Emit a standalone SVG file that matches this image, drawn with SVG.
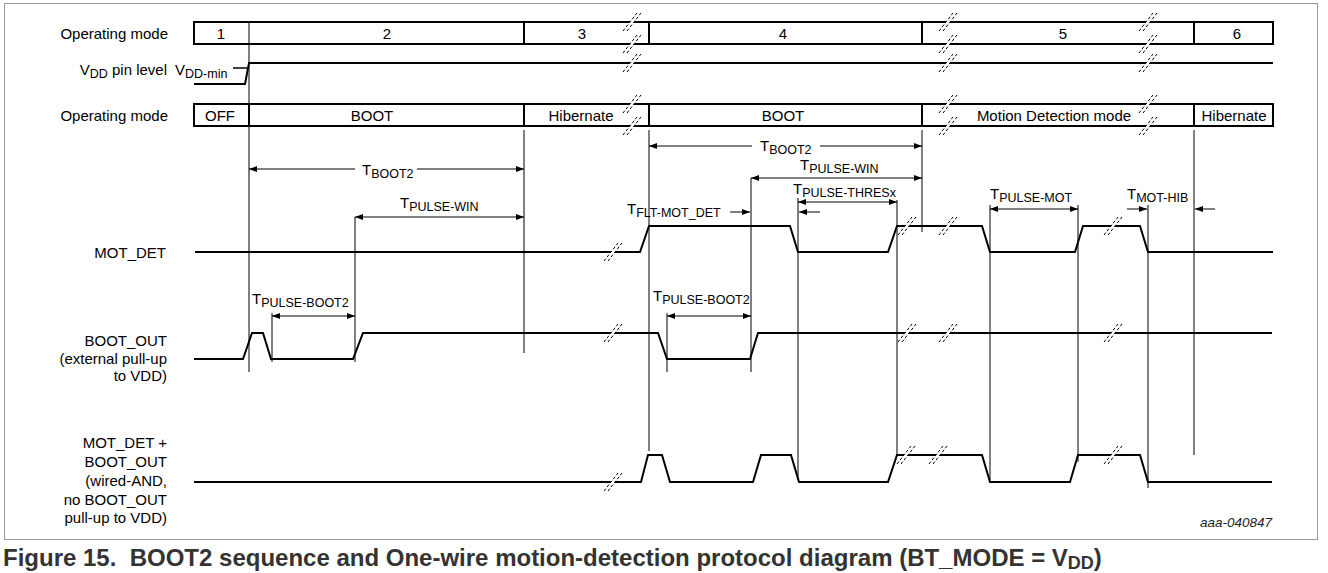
<svg xmlns="http://www.w3.org/2000/svg" width="1328" height="573" viewBox="0 0 1328 573">
<style>
text{font-family:"Liberation Sans",Arial,sans-serif;font-size:15px;fill:#000}
.lbl{text-anchor:end}
.mid{text-anchor:middle}
.sub{font-size:12.5px}
.bar{fill:#fff;stroke:#000;stroke-width:2}
.dv{stroke:#000;stroke-width:2}
.sig{fill:none;stroke:#000;stroke-width:2}
.ref{stroke:#000;stroke-width:1}
.dim{stroke:#000;stroke-width:1;fill:none}
.da{marker-start:url(#ah);marker-end:url(#ah)}
.ea{marker-end:url(#ah)}
.cap{font-size:24px;font-weight:bold;fill:#333}
.code{font-size:13.5px;font-style:italic;text-anchor:end;fill:#222}
</style>
<defs>
<marker id="ah" markerUnits="userSpaceOnUse" markerWidth="9" markerHeight="6" refX="8" refY="3" orient="auto-start-reverse"><path d="M0,0 L8,3 L0,6 z" fill="#000"/></marker>
<g id="brk"><polygon points="-9,9 -5,9 9,-9 5,-9" fill="#fff"/><path d="M-9,9 L5,-9 M-5,9 L9,-9" stroke="#000" stroke-width="1" stroke-dasharray="3 2" fill="none"/></g>
</defs>
<rect x="4.5" y="3.5" width="1313" height="536" fill="none" stroke="#999" stroke-width="1"/>

<g id="labels">
<text class="lbl" x="168" y="39">Operating mode</text>
<text class="lbl" x="167" y="75">V<tspan class="sub" dy="3">DD</tspan><tspan dy="-3"> pin level</tspan></text>
<text x="175" y="75">V<tspan class="sub" dy="3">DD-min</tspan></text>
<text class="lbl" x="168" y="121">Operating mode</text>
<text class="lbl" x="166" y="258">MOT_DET</text>
<text class="lbl" x="167" y="346">BOOT_OUT</text>
<text class="lbl" x="167" y="363.5">(external pull-up</text>
<text class="lbl" x="167" y="381">to VDD)</text>
<text class="lbl" x="167" y="448">MOT_DET +</text>
<text class="lbl" x="167" y="467">BOOT_OUT</text>
<text class="lbl" x="167" y="486">(wired-AND,</text>
<text class="lbl" x="167" y="505">no BOOT_OUT</text>
<text class="lbl" x="167" y="523">pull-up to VDD)</text>
</g>

<g id="mode-bar-1">
<rect class="bar" x="194" y="22" width="1079" height="22"/>
<path class="dv" d="M524,22V44M649,22V44M922,22V44M1194,22V44"/>
<text class="mid" x="221" y="38.5">1</text>
<text class="mid" x="387" y="38.5">2</text>
<text class="mid" x="582" y="38.5">3</text>
<text class="mid" x="783" y="38.5">4</text>
<text class="mid" x="1063" y="38.5">5</text>
<text class="mid" x="1237" y="38.5">6</text>
</g>

<g id="vdd-level">
<path class="sig" d="M194,84H245L249,63H1273"/>
<line x1="233" y1="68" x2="247" y2="68" stroke="#000" stroke-width="1.5"/>
</g>

<g id="mode-bar-2">
<rect class="bar" x="194" y="104" width="1079" height="22"/>
<path class="dv" d="M249,104V126M524,104V126M649,104V126M922,104V126M1194,104V126"/>
<text class="mid" x="220" y="120.5">OFF</text>
<text class="mid" x="372" y="120.5">BOOT</text>
<text class="mid" x="581" y="120.5">Hibernate</text>
<text class="mid" x="783" y="120.5">BOOT</text>
<text class="mid" x="1054" y="120.5">Motion Detection mode</text>
<text class="mid" x="1234" y="120.5">Hibernate</text>
</g>

<g id="mot-det">
<path class="sig" d="M195,252H640L649,226H790L798,252H888L897,226H982L990,252H1075L1083,226H1140L1148,252H1273"/>
</g>

<g id="boot-out">
<path class="sig" d="M194,359H243L252,333H263L271,359H353L363,333H658L667,359H750L758,333H1272"/>
</g>

<g id="wired-and">
<path class="sig" d="M194,482H641L648,455H662L670,482H753L761,455H791L799,482H888L897,455H982L990,482H1070L1078,455H1140L1148,482H1272"/>
</g>

<g id="breaks">
<use href="#brk" x="632" y="22"/><use href="#brk" x="632" y="44"/><use href="#brk" x="632" y="63"/>
<use href="#brk" x="632" y="104"/><use href="#brk" x="632" y="126"/>
<use href="#brk" x="948" y="22"/><use href="#brk" x="948" y="44"/><use href="#brk" x="948" y="63"/>
<use href="#brk" x="948" y="104"/><use href="#brk" x="948" y="126"/>
<use href="#brk" x="1148" y="22"/><use href="#brk" x="1148" y="44"/><use href="#brk" x="1148" y="63"/>
<use href="#brk" x="1148" y="104"/><use href="#brk" x="1148" y="126"/>
<use href="#brk" x="613" y="252"/><use href="#brk" x="907" y="226"/><use href="#brk" x="948" y="226"/><use href="#brk" x="1113" y="226"/>
<use href="#brk" x="613" y="333"/><use href="#brk" x="907" y="333"/><use href="#brk" x="948" y="333"/><use href="#brk" x="1113" y="333"/>
<use href="#brk" x="613" y="482"/><use href="#brk" x="906" y="455"/><use href="#brk" x="938" y="455"/><use href="#brk" x="1113" y="455"/>
</g>

<g id="connectors">
<path class="ref" d="M249,22V372M524,130V353M649,130V451M922,130V232M1194,130V455M355,217V362M272,313V362M751,178V372M667,313V372M798,198V480M897,200V455M990,205V480M1078,205V462M1148,205V488"/>
<line class="dim" x1="355" y1="169" x2="249" y2="169" marker-end="url(#ah)"/>
<line class="dim" x1="417" y1="169" x2="524" y2="169" marker-end="url(#ah)"/>
<line class="dim" x1="752" y1="146" x2="649" y2="146" marker-end="url(#ah)"/>
<line class="dim" x1="820" y1="146" x2="922" y2="146" marker-end="url(#ah)"/>
<line class="dim da" x1="355" y1="217" x2="524" y2="217"/>
<line class="dim da" x1="751" y1="178" x2="922" y2="178"/>
<line class="dim da" x1="798" y1="202" x2="897" y2="202"/>
<line class="dim ea" x1="820" y1="212" x2="799" y2="212"/>
<line class="dim ea" x1="730" y1="212" x2="750" y2="212"/>
<line class="dim da" x1="272" y1="316" x2="355" y2="316"/>
<line class="dim da" x1="667" y1="316" x2="751" y2="316"/>
<line class="dim da" x1="990" y1="209" x2="1078" y2="209"/>
<line class="dim ea" x1="1127" y1="209" x2="1147" y2="209"/>
<line class="dim ea" x1="1215" y1="209" x2="1195" y2="209"/>
</g>

<g id="timing-labels">
<text x="362" y="175">T<tspan class="sub" dy="3">BOOT2</tspan></text>
<text x="760" y="151">T<tspan class="sub" dy="3">BOOT2</tspan></text>
<text x="400" y="208">T<tspan class="sub" dy="3">PULSE-WIN</tspan></text>
<text x="800" y="170">T<tspan class="sub" dy="3">PULSE-WIN</tspan></text>
<text x="793" y="194">T<tspan class="sub" dy="3">PULSE-THRESx</tspan></text>
<text x="627" y="214">T<tspan class="sub" dy="3">FLT-MOT_DET</tspan></text>
<text x="252" y="304">T<tspan class="sub" dy="3">PULSE-BOOT2</tspan></text>
<text x="653" y="301">T<tspan class="sub" dy="3">PULSE-BOOT2</tspan></text>
<text x="990" y="199">T<tspan class="sub" dy="3">PULSE-MOT</tspan></text>
<text x="1127" y="199">T<tspan class="sub" dy="3">MOT-HIB</tspan></text>
</g>

<text class="code" x="1272" y="527">aaa-040847</text>
<text class="cap" x="3" y="566" xml:space="preserve">Figure 15.  BOOT2 sequence and One-wire motion-detection protocol diagram (BT_MODE = V<tspan font-size="18" dy="3">DD</tspan><tspan dy="-3">)</tspan></text>
</svg>
